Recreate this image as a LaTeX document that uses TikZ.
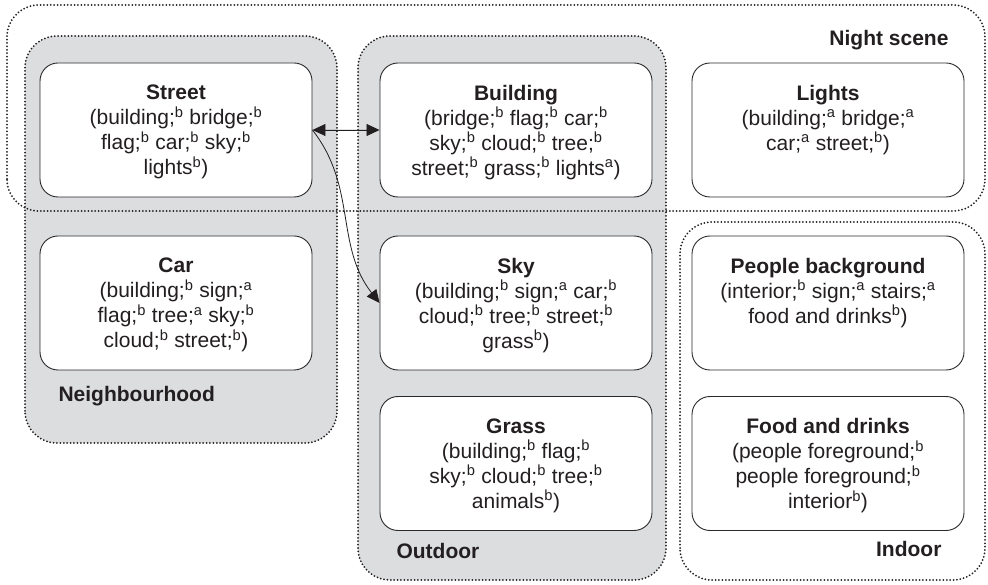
\documentclass[tikz,border=0pt]{standalone}
\usepackage{fontspec}
\setmainfont{Liberation Sans}
\usepackage{xcolor}
\usetikzlibrary{arrows.meta}

\definecolor{groupgray}{HTML}{DCDDDF}
\definecolor{boxline}{HTML}{2A2A2A}
\definecolor{ink}{HTML}{231F20}

\newcommand{\relA}{\textsuperscript{a}}
\newcommand{\relB}{\textsuperscript{b}}
% title in bold, then the list, all hanging from the top of the box
\newcommand{\cellbody}[2]{\parbox[c][134pt][t]{272pt}{\centering\vspace*{22pt}\textbf{#1}\\#2}}

\begin{document}
\begin{tikzpicture}[x=1pt, y=1pt,
      font=\fontsize{21}{25}\selectfont, text=ink,
      cell/.style={draw=boxline, fill=white, rounded corners=18pt, inner sep=0pt, line width=0.9pt},
      group/.style={draw=ink, line width=2pt, dash pattern=on 0pt off 3.4pt, line cap=round, rounded corners=32pt},
      grouptitle/.style={font=\fontsize{21}{25}\selectfont\bfseries},
      >={Triangle[length=13pt,width=12pt]}]
    \useasboundingbox (0,0) rectangle (988,584);
    % shaded groups
    \draw[group, fill=groupgray] (25,141) rectangle (337,548);
    \draw[group, fill=groupgray] (358,4) rectangle (666,548);
    % open groups
    \draw[group] (7,373) rectangle (985,579);
    \draw[group] (680,4) rectangle (985,362);
    \node[grouptitle, anchor=east] (night) at (952,544) {Night scene};
    \node[grouptitle, anchor=west] (hood) at (55,188) {Neighbourhood};
    \node[grouptitle, anchor=west] (outdoor) at (393,33) {Outdoor};
    \node[grouptitle, anchor=east] (indoor) at (945,35) {Indoor};
    % first row
    \node[cell] (street) at (176,454) {\cellbody{Street}{(building;\relB{} bridge;\relB\\ flag;\relB{} car;\relB{} sky;\relB\\ lights\relB)}};
    \node[cell] (building) at (516,454) {\cellbody{Building}{(bridge;\relB{} flag;\relB{} car;\relB\\ sky;\relB{} cloud;\relB{} tree;\relB\\ street;\relB{} grass;\relB{} lights\relA)}};
    \node[cell] (lights) at (828,454) {\cellbody{Lights}{(building;\relA{} bridge;\relA\\ car;\relA{} street;\relB)}};
    % second row
    \node[cell] (car) at (176,281) {\cellbody{Car}{(building;\relB{} sign;\relA\\ flag;\relB{} tree;\relA{} sky;\relB\\ cloud;\relB{} street;\relB)}};
    \node[cell] (sky) at (516,281) {\cellbody{Sky}{(building;\relB{} sign;\relA{} car;\relB\\ cloud;\relB{} tree;\relB{} street;\relB\\ grass\relB)}};
    \node[cell] (people) at (828,281) {\cellbody{People background}{(interior;\relB{} sign;\relA{} stairs;\relA\\ food and drinks\relB)}};
    % third row
    \node[cell] (grass) at (516,120.5) {\cellbody{Grass}{(building;\relB{} flag;\relB\\ sky;\relB{} cloud;\relB{} tree;\relB\\ animals\relB)}};
    \node[cell] (food) at (828,120.5) {\cellbody{Food and drinks}{(people foreground;\relB\\ people foreground;\relB\\ interior\relB)}};
    \draw[<->, draw=ink, fill=ink, line width=0.8pt] (street.east) -- (building.west);
    \draw[->, draw=ink, line width=0.8pt] (street.east) to[out=-52, in=128] (sky.west);
  \end{tikzpicture}
\end{document}
